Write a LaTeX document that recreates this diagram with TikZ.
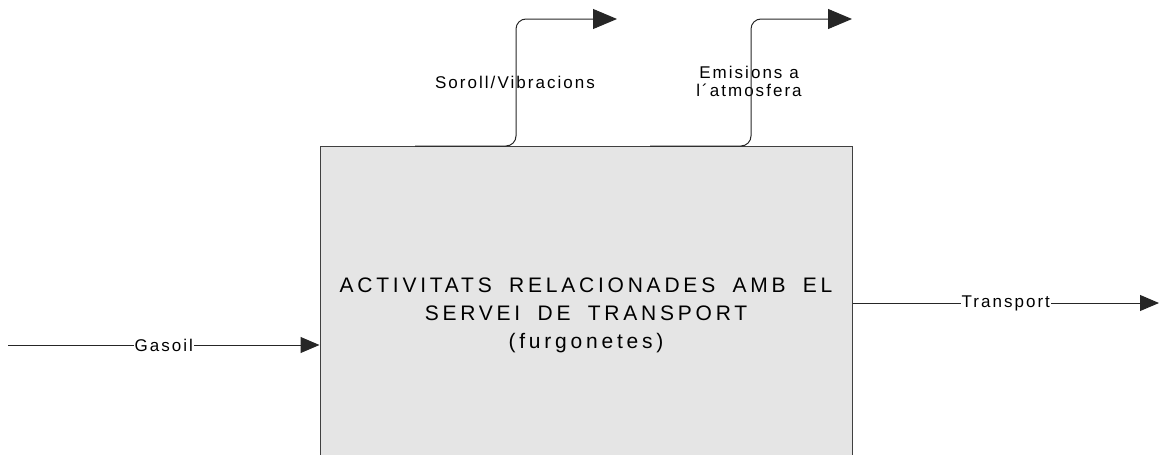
\documentclass[tikz,border=0pt]{standalone}
\usepackage{fontspec}
\setmainfont{Liberation Sans}
\newfontfamily\labelfont[LetterSpace=12]{Liberation Sans}
\newfontfamily\boxfont[LetterSpace=18, WordSpace=1.8]{Liberation Sans}
\usepackage{tikz}
\usetikzlibrary{arrows.meta,positioning}

\begin{document}
\begin{tikzpicture}[x=1pt, y=-1pt, line width=1pt]
        \tikzset{activity/.style={rectangle, draw=black!75, fill=black!10, minimum width=532pt, minimum height=338pt, align=center, font=\boxfont\fontsize{21}{28}\selectfont},
                 flow label/.style={font=\labelfont\fontsize{17}{18}\selectfont, align=center, inner sep=1pt},
                 flow/.style={draw=black!85, -{Triangle[length=19pt, width=16pt]}},
                 out flow/.style={draw=black!85, rounded corners=10pt, -{Triangle[length=24pt, width=20pt]}}}

        \useasboundingbox (0,0) rectangle (1162,455);
        \clip (0,0) rectangle (1162,455);

        % Nodes
        \node (activitats) [activity] at (586,315) {ACTIVITATS RELACIONADES AMB EL\\SERVEI DE TRANSPORT\\(furgonetes)};
        \coordinate (gasoil in) at (8,345);
        \coordinate (transport out) at (1159,303);
        \coordinate (soroll in) at (415,146);
        \coordinate (soroll out) at (617,19);
        \coordinate (emisions in) at (650,146);
        \coordinate (emisions out) at (852,19);
        \node (soroll) [flow label] at (515,82) {Soroll/Vibracions};
        \node (emisions) [flow label] at (749,81) {Emisions a\\l´atmosfera};

        % Arrows
        \draw [flow] (gasoil in) -- node [flow label, fill=white] {Gasoil} (activitats.west |- gasoil in);
        \draw [flow] (activitats.east |- transport out) -- node [flow label, fill=white] {Transport} (transport out);
        \draw [out flow] (soroll in) -- ++(101,0) |- (soroll out);
        \draw [out flow] (emisions in) -- ++(101,0) |- (emisions out);
    \end{tikzpicture}
\end{document}
